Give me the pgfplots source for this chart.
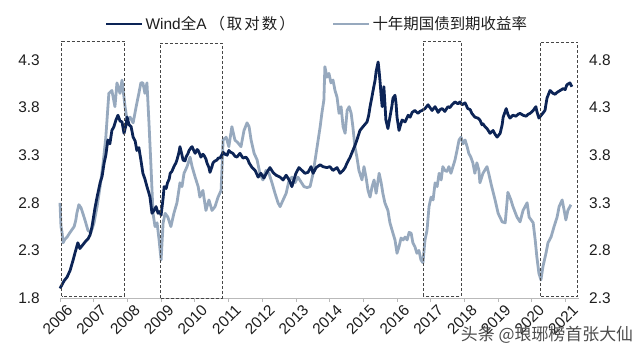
\documentclass[border=0pt]{standalone}
\usepackage{pgfplots}
\pgfplotsset{compat=1.18}
\usepackage{fontspec}
\setmainfont{Liberation Sans}
\newfontfamily\cjk{Noto Sans CJK SC}
\definecolor{navy}{RGB}{12,36,86}
\definecolor{bondc}{RGB}{151,169,190}
\definecolor{boxc}{RGB}{70,70,70}
\definecolor{txt}{RGB}{30,30,30}
\newcommand{\fs}{\fontsize{15.5}{18}\selectfont}
\begin{document}
\begin{tikzpicture}
% right axis: 10y bond yield (drawn first, below)
\begin{axis}[
  scale only axis, width=519bp, height=257bp, at={(0,0)},
  xmin=2006, xmax=2021.4,
  ymin=2.3, ymax=5.0,
  axis x line*=bottom, axis y line*=right,
  x axis line style={draw=gray!55, line width=0.7bp, -},
  y axis line style={draw=none},
  xtick={2006,...,2021},
  xticklabels={2006,2007,2008,2009,2010,2011,2012,2013,2014,2015,2016,2017,2018,2019,2020,2021},
  xtick style={draw=gray!55, line width=0.7bp},
  tick align=outside, major tick length=4bp,
  xticklabel style={rotate=45, anchor=east, inner sep=0pt, font=\fs, text=txt, xshift=3bp, yshift=-11bp},
  ytick={2.3,2.8,3.3,3.8,4.3,4.8},
  ytick style={draw=none},
  yticklabel style={anchor=west, inner sep=0pt, xshift=6bp, font=\fs, text=txt,
    /pgf/number format/.cd, fixed, fixed zerofill, precision=1, assume math mode=true},
  clip=false,
]
\addplot[bondc, line width=2.8bp, line join=round] table {
2006.00 3.30
2006.03 3.05
2006.06 2.99
2006.09 2.88
2006.15 2.92
2006.21 2.94
2006.30 2.99
2006.36 3.02
2006.42 3.05
2006.47 3.12
2006.50 3.19
2006.56 3.28
2006.62 3.25
2006.65 3.22
2006.74 3.12
2006.83 3.01
2006.92 2.99
2007.01 3.09
2007.10 3.26
2007.19 3.47
2007.28 3.72
2007.36 3.99
2007.42 4.30
2007.45 4.45
2007.54 4.48
2007.63 4.31
2007.69 4.56
2007.78 4.45
2007.84 4.59
2007.93 4.31
2007.99 4.17
2008.08 4.20
2008.17 4.14
2008.26 4.31
2008.34 4.45
2008.40 4.56
2008.46 4.56
2008.52 4.45
2008.58 4.56
2008.64 4.14
2008.70 3.68
2008.76 3.19
2008.82 3.05
2008.88 3.09
2008.94 2.91
2009.00 2.70
2009.06 3.09
2009.12 3.19
2009.20 3.15
2009.29 3.05
2009.38 3.19
2009.47 3.30
2009.56 3.51
2009.62 3.47
2009.68 3.61
2009.77 3.68
2009.86 3.78
2009.92 3.68
2010.01 3.57
2010.10 3.47
2010.15 3.36
2010.24 3.43
2010.33 3.22
2010.42 3.33
2010.51 3.22
2010.60 3.26
2010.69 3.36
2010.78 3.43
2010.84 3.96
2010.93 3.99
2011.01 3.89
2011.10 4.10
2011.19 3.96
2011.28 3.93
2011.37 3.89
2011.46 4.06
2011.55 4.14
2011.61 4.10
2011.67 3.96
2011.76 3.82
2011.85 3.75
2011.93 3.61
2012.02 3.54
2012.11 3.64
2012.20 3.61
2012.29 3.51
2012.38 3.40
2012.47 3.30
2012.53 3.26
2012.62 3.33
2012.71 3.40
2012.80 3.54
2012.88 3.57
2012.97 3.51
2013.06 3.57
2013.15 3.52
2013.24 3.47
2013.33 3.46
2013.42 3.47
2013.51 3.61
2013.60 3.82
2013.66 3.96
2013.72 4.10
2013.77 4.24
2013.83 4.38
2013.86 4.73
2013.92 4.62
2013.98 4.66
2014.04 4.56
2014.10 4.59
2014.16 4.48
2014.22 4.41
2014.28 4.24
2014.34 4.31
2014.40 4.10
2014.46 4.03
2014.52 4.27
2014.58 4.31
2014.64 4.24
2014.69 4.10
2014.75 3.89
2014.81 3.78
2014.87 3.64
2014.96 3.54
2015.02 3.68
2015.08 3.57
2015.14 3.43
2015.20 3.36
2015.26 3.47
2015.32 3.54
2015.38 3.40
2015.47 3.61
2015.53 3.51
2015.58 3.40
2015.64 3.30
2015.73 3.22
2015.79 3.09
2015.88 2.98
2015.94 2.91
2016.00 2.77
2016.06 2.84
2016.12 2.93
2016.18 2.91
2016.24 2.94
2016.30 2.91
2016.36 2.99
2016.42 2.98
2016.47 2.88
2016.53 2.84
2016.59 2.77
2016.65 2.80
2016.71 2.70
2016.77 2.67
2016.83 2.91
2016.89 3.01
2016.95 3.26
2017.01 3.36
2017.07 3.33
2017.13 3.51
2017.19 3.47
2017.25 3.61
2017.31 3.54
2017.36 3.68
2017.42 3.64
2017.48 3.63
2017.54 3.68
2017.60 3.61
2017.66 3.68
2017.72 3.75
2017.78 3.85
2017.84 3.96
2017.90 3.99
2017.96 3.92
2018.02 3.96
2018.08 3.89
2018.13 3.82
2018.19 3.78
2018.25 3.72
2018.31 3.61
2018.37 3.72
2018.43 3.64
2018.46 3.51
2018.55 3.61
2018.67 3.68
2018.72 3.61
2018.81 3.47
2018.91 3.33
2019.00 3.19
2019.12 3.10
2019.21 3.09
2019.29 3.41
2019.38 3.33
2019.44 3.26
2019.56 3.15
2019.65 3.10
2019.74 3.22
2019.86 3.30
2019.92 3.15
2020.04 3.09
2020.10 2.91
2020.15 2.73
2020.21 2.56
2020.27 2.49
2020.33 2.63
2020.42 2.77
2020.48 2.88
2020.57 2.94
2020.66 3.05
2020.75 3.15
2020.81 3.26
2020.90 3.33
2020.96 3.22
2021.01 3.12
2021.07 3.22
2021.16 3.28
};
\end{axis}
% left axis: Wind All A (log)
\begin{axis}[
  scale only axis, width=519bp, height=257bp, at={(0,0)},
  xmin=2006, xmax=2021.4,
  ymin=1.8, ymax=4.5,
  axis x line=none, axis y line*=left,
  y axis line style={draw=none},
  ytick={1.8,2.3,2.8,3.3,3.8,4.3},
  ytick style={draw=none},
  yticklabel style={anchor=east, inner sep=0pt, xshift=-20bp, font=\fs, text=txt,
    /pgf/number format/.cd, fixed, fixed zerofill, precision=1, assume math mode=true},
  clip=false,
  legend style={at={(0.495,1.066)}, anchor=center, draw=none, fill=none,
    font=\fs, text=txt, inner sep=0pt,
    /tikz/every even column/.append style={column sep=35bp}},
  legend columns=2, legend cell align=left,
  legend image code/.code={\draw[#1, line width=2.8bp] (0bp,0bp) -- (36bp,0bp);},
]
\addplot[navy, line width=2.8bp, line join=round] table {
2006.00 1.90
2006.12 1.98
2006.21 2.02
2006.30 2.09
2006.39 2.20
2006.45 2.28
2006.53 2.38
2006.59 2.32
2006.68 2.36
2006.77 2.40
2006.83 2.42
2006.89 2.46
2006.95 2.55
2007.04 2.75
2007.10 2.86
2007.19 3.01
2007.25 3.08
2007.31 3.22
2007.36 3.30
2007.42 3.46
2007.48 3.42
2007.54 3.56
2007.60 3.60
2007.66 3.67
2007.72 3.72
2007.78 3.66
2007.84 3.65
2007.90 3.53
2007.96 3.62
2007.99 3.70
2008.05 3.62
2008.11 3.60
2008.17 3.49
2008.23 3.45
2008.28 3.35
2008.34 3.38
2008.40 3.25
2008.46 3.11
2008.52 3.05
2008.58 2.97
2008.64 2.90
2008.67 2.86
2008.73 2.69
2008.79 2.72
2008.85 2.76
2008.91 2.69
2008.97 2.71
2009.00 2.67
2009.06 2.85
2009.09 2.97
2009.15 2.95
2009.19 3.01
2009.24 3.05
2009.27 3.11
2009.32 3.13
2009.38 3.18
2009.44 3.22
2009.47 3.25
2009.53 3.33
2009.56 3.39
2009.62 3.30
2009.65 3.25
2009.71 3.24
2009.74 3.28
2009.80 3.32
2009.83 3.35
2009.89 3.38
2009.92 3.39
2009.98 3.34
2010.01 3.32
2010.07 3.36
2010.10 3.35
2010.15 3.31
2010.18 3.28
2010.24 3.31
2010.27 3.30
2010.33 3.26
2010.36 3.22
2010.42 3.17
2010.45 3.12
2010.51 3.18
2010.54 3.22
2010.60 3.24
2010.66 3.25
2010.69 3.27
2010.75 3.27
2010.81 3.31
2010.84 3.33
2010.90 3.31
2010.96 3.30
2011.01 3.35
2011.07 3.33
2011.13 3.32
2011.19 3.29
2011.25 3.28
2011.34 3.32
2011.43 3.27
2011.52 3.28
2011.58 3.25
2011.61 3.22
2011.70 3.17
2011.79 3.14
2011.88 3.07
2011.96 3.11
2012.05 3.06
2012.14 3.12
2012.23 3.17
2012.32 3.12
2012.41 3.09
2012.53 3.07
2012.62 3.04
2012.71 3.09
2012.80 3.04
2012.85 3.00
2012.88 2.97
2012.94 3.04
2013.00 3.11
2013.09 3.17
2013.18 3.14
2013.27 3.11
2013.36 3.12
2013.45 3.18
2013.51 3.11
2013.60 3.17
2013.72 3.20
2013.80 3.18
2013.92 3.17
2014.01 3.18
2014.10 3.14
2014.22 3.17
2014.31 3.11
2014.40 3.14
2014.46 3.17
2014.52 3.22
2014.61 3.28
2014.69 3.35
2014.75 3.40
2014.81 3.46
2014.90 3.56
2014.99 3.60
2015.04 3.62
2015.11 3.65
2015.16 3.72
2015.20 3.81
2015.26 3.92
2015.29 3.98
2015.35 4.09
2015.38 4.18
2015.44 4.28
2015.47 4.18
2015.50 4.06
2015.53 3.92
2015.56 3.81
2015.58 3.90
2015.61 4.02
2015.64 3.85
2015.67 3.67
2015.73 3.58
2015.79 3.70
2015.85 3.82
2015.88 3.90
2015.94 3.93
2015.97 3.85
2016.00 3.70
2016.06 3.56
2016.09 3.60
2016.15 3.67
2016.24 3.65
2016.33 3.72
2016.39 3.70
2016.45 3.75
2016.53 3.77
2016.62 3.74
2016.68 3.76
2016.74 3.77
2016.83 3.79
2016.92 3.83
2016.98 3.80
2017.04 3.77
2017.13 3.81
2017.22 3.75
2017.28 3.78
2017.34 3.79
2017.42 3.76
2017.51 3.81
2017.57 3.80
2017.63 3.83
2017.72 3.86
2017.81 3.84
2017.87 3.86
2017.93 3.83
2018.02 3.85
2018.10 3.79
2018.17 3.78
2018.22 3.74
2018.31 3.70
2018.40 3.69
2018.46 3.67
2018.52 3.62
2018.55 3.63
2018.61 3.60
2018.67 3.58
2018.76 3.53
2018.85 3.56
2018.91 3.52
2018.97 3.49
2019.06 3.53
2019.12 3.62
2019.15 3.70
2019.21 3.76
2019.24 3.79
2019.29 3.73
2019.35 3.69
2019.44 3.72
2019.53 3.71
2019.59 3.73
2019.65 3.74
2019.74 3.72
2019.83 3.71
2019.89 3.73
2019.95 3.74
2020.04 3.77
2020.12 3.81
2020.15 3.76
2020.21 3.69
2020.30 3.73
2020.39 3.77
2020.45 3.90
2020.54 3.98
2020.63 3.95
2020.69 3.94
2020.75 3.96
2020.84 3.98
2020.93 4.00
2020.99 3.99
2021.04 4.04
2021.13 4.06
2021.19 4.02
};
\addlegendentry{Wind{\cjk 全}A\kern3bp{\cjk （\kern2bp 取\kern2bp 对\kern2bp 数\kern2bp ）}}
\addlegendimage{bondc}
\addlegendentry{{\cjk 十年期国债到期收益率}}
% highlighted periods
\draw[boxc, line width=0.8bp, dash pattern=on 3bp off 2bp] (axis cs:2006.05,1.82) rectangle (axis cs:2007.91,4.5);
\draw[boxc, line width=0.8bp, dash pattern=on 3bp off 2bp] (axis cs:2008.97,1.80) rectangle (axis cs:2010.81,4.48);
\draw[boxc, line width=0.8bp, dash pattern=on 3bp off 2bp] (axis cs:2016.77,1.82) rectangle (axis cs:2017.90,4.5);
\draw[boxc, line width=0.8bp, dash pattern=on 3bp off 2bp] (axis cs:2020.24,1.82) rectangle (axis cs:2021.36,4.49);
\end{axis}
\node[text=gray!60!black, font=\fontsize{17}{20}\selectfont\cjk, anchor=center] at (487bp,-37bp) {头条 @琅琊榜首张大仙};
\pgfresetboundingbox
\path (-60bp,-54bp) rectangle (580bp,298bp);
\end{tikzpicture}
\end{document}
